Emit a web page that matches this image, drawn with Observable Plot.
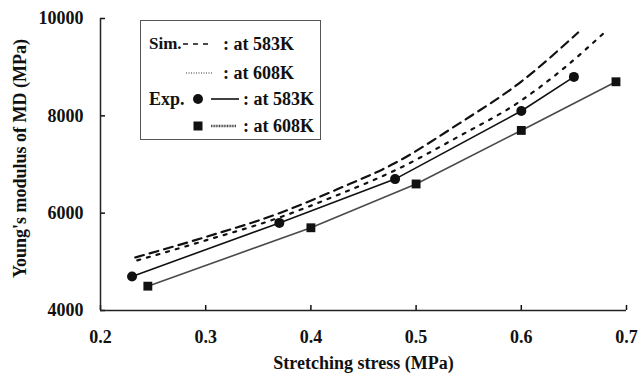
<!DOCTYPE html>
<html>
<head>
<meta charset="utf-8">
<script src="https://cdn.jsdelivr.net/npm/d3@7"></script>
<script src="https://cdn.jsdelivr.net/npm/@observablehq/plot@0.6"></script>
<style>
  html, body { margin: 0; padding: 0; background: #fff; }
  #chart { position: relative; width: 639px; height: 379px; font-family: "Liberation Serif", "Times New Roman", serif; font-weight: bold; color: #111; }
  #legend { position: absolute; left: 140px; top: 20px; width: 181px; height: 120px; border: 1px solid #555; background: #fff; box-sizing: border-box; }
  #legend .t { position: absolute; font-size: 18px; line-height: 18px; white-space: nowrap; transform: translateY(-50%); }
  #legend svg { position: absolute; overflow: visible; }
</style>
</head>
<body>
<div id="chart"></div>
<script>
// Axis ticks
const xTicks = [0.2, 0.3, 0.4, 0.5, 0.6, 0.7];
const yTicks = [4000, 6000, 8000, 10000];

// Experimental data, 583 K (circles)
const expStress583 = [0.23, 0.37, 0.48, 0.60, 0.65];
const expModulus583 = [4700, 5800, 6700, 8100, 8800];

// Experimental data, 608 K (squares)
const expStress608 = [0.245, 0.40, 0.50, 0.60, 0.69];
const expModulus608 = [4500, 5700, 6600, 7700, 8700];

// Simulation, 583 K (dashed)
const simStress583 = [0.233, 0.30, 0.37, 0.425, 0.48, 0.54, 0.60, 0.654];
const simModulus583 = [5090, 5510, 6000, 6490, 7030, 7830, 8705, 9712];

// Simulation, 608 K (dotted)
const simStress608 = [0.235, 0.30, 0.37, 0.425, 0.48, 0.54, 0.60, 0.64, 0.678];
const simModulus608 = [5030, 5440, 5910, 6370, 6880, 7570, 8315, 8970, 9692];

const zip = (xs, ys) => xs.map((x, i) => ({x, y: ys[i]}));
const exp583 = zip(expStress583, expModulus583);
const exp608 = zip(expStress608, expModulus608);
const sim583 = zip(simStress583, simModulus583);
const sim608 = zip(simStress608, simModulus608);

const plot = Plot.plot({
  width: 639,
  height: 379,
  marginLeft: 100,
  marginRight: 13,
  marginTop: 18,
  marginBottom: 69,
  x: {domain: [0.2, 0.7]},
  y: {domain: [4000, 10000]},
  style: {
    fontFamily: "'Liberation Serif', 'Times New Roman', serif",
    fontWeight: "bold",
    fontSize: "18px",
    color: "#111",
    background: "#fff"
  },
  marks: [
    // inward ticks (negative tick size), labels pushed outside
    Plot.axisX({ticks: xTicks, tickSize: -5, tickPadding: 25, tickFormat: d3.format(".1f"), label: null, strokeWidth: 1.5}),
    Plot.axisY({ticks: yTicks, tickSize: -5, tickPadding: 22, tickFormat: d3.format("d"), label: null, strokeWidth: 1.5}),
    Plot.ruleX([0.2], {stroke: "#222", strokeWidth: 1.5}),
    Plot.ruleY([4000], {stroke: "#222", strokeWidth: 1.5}),
    Plot.line(sim583, {x: "x", y: "y", curve: "monotone-x", stroke: "#111", strokeWidth: 2.2, strokeDasharray: "9,6"}),
    Plot.line(sim608, {x: "x", y: "y", curve: "monotone-x", stroke: "#111", strokeWidth: 2.2, strokeDasharray: "3,7"}),
    Plot.line(exp583, {x: "x", y: "y", stroke: "#111", strokeWidth: 1.6}),
    Plot.line(exp608, {x: "x", y: "y", stroke: "#4a4a4a", strokeWidth: 1.6}),
    Plot.dot(exp583, {x: "x", y: "y", r: 5, fill: "#111", stroke: "none"}),
    Plot.dot(exp608, {x: "x", y: "y", r: 5, symbol: "square", fill: "#111", stroke: "none"}),
    Plot.text(["Stretching stress (MPa)"], {frameAnchor: "bottom", dy: 58, fontSize: 18}),
    Plot.text(["Young's modulus of MD (MPa)"], {frameAnchor: "left", textAnchor: "middle", rotate: -90, dx: -80, dy: -6, fontSize: 18})
  ]
});

const chart = document.getElementById("chart");
chart.appendChild(plot);

// Legend box drawn over the plot area
const legend = document.createElement("div");
legend.id = "legend";
legend.innerHTML = `
  <span class="t" style="left:8px;top:23px;font-size:17px">Sim.</span>
  <svg style="left:42px;top:23px" width="28" height="1"><line x1="0" y1="0" x2="28" y2="0" stroke="#111" stroke-width="1.6" stroke-dasharray="5,5"/></svg>
  <span class="t" style="left:82px;top:23px">: at 583K</span>
  <svg style="left:45px;top:52px" width="27" height="1"><line x1="0" y1="0" x2="27" y2="0" stroke="#333" stroke-width="1.2" stroke-dasharray="1,1.5"/></svg>
  <span class="t" style="left:82px;top:52px">: at 608K</span>
  <span class="t" style="left:8px;top:78px">Exp.</span>
  <svg style="left:57px;top:78px" width="1" height="1"><circle cx="0" cy="0" r="5" fill="#111"/></svg>
  <svg style="left:70px;top:78px" width="28" height="1"><line x1="0" y1="0" x2="28" y2="0" stroke="#111" stroke-width="1.6"/></svg>
  <span class="t" style="left:102px;top:78px">: at 583K</span>
  <svg style="left:57px;top:105px" width="1" height="1"><rect x="-4.5" y="-4.5" width="9" height="9" fill="#111"/></svg>
  <svg style="left:70px;top:105px" width="25" height="1"><line x1="0" y1="0" x2="25" y2="0" stroke="#4a4a4a" stroke-width="2.6" stroke-dasharray="1,0.6"/></svg>
  <span class="t" style="left:102px;top:105px">: at 608K</span>
`;
chart.appendChild(legend);
</script>
</body>
</html>
